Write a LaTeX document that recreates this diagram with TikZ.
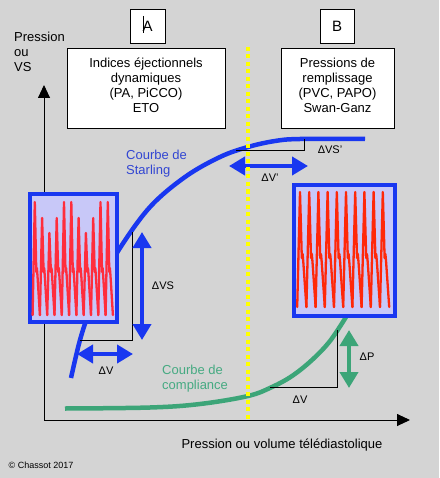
\documentclass[tikz,border=0pt]{standalone}
\usepackage{fontspec}
\setmainfont{Liberation Sans}
\usetikzlibrary{arrows.meta}
\definecolor{bg}{RGB}{212,212,212}
\definecolor{sblue}{RGB}{25,55,240}
\definecolor{cgreen}{RGB}{60,165,120}
\definecolor{tblue}{RGB}{50,70,210}
\definecolor{tgreen}{RGB}{70,170,130}
\definecolor{lav}{RGB}{200,200,248}
\definecolor{wredA}{RGB}{255,45,60}
\definecolor{wredB}{RGB}{255,40,10}
\definecolor{ylw}{RGB}{255,255,0}
\begin{document}
\begin{tikzpicture}[x=1pt,y=-1pt,
  txt/.style={font=\fontsize{13}{15}\selectfont, inner sep=0pt, align=center},
  lbl/.style={font=\fontsize{11}{13}\selectfont, inner sep=0pt},
  tbox/.style={draw=black, fill=white, line width=0.8pt, inner sep=0pt},
  wbox/.style={draw=sblue, line width=4pt, fill=lav, inner sep=0pt},
  curveS/.style={sblue, line width=4.5pt},
  curveC/.style={cgreen, line width=4.5pt},
  brk/.style={black, line width=0.8pt},
  darrow/.style={line width=4pt, {Triangle[width=18pt,length=16pt]}-{Triangle[width=18pt,length=16pt]}},
  axis/.style={black, line width=0.9pt, -{Triangle[width=12pt,length=13pt]}},
  wave/.style={line width=2.3pt, line join=round, line cap=round}]
\useasboundingbox (0,0) rectangle (439,478);
\fill[bg] (0,0) rectangle (439,478);

% axes
\coordinate (O) at (44,420);
\coordinate (Ytop) at (44,85);
\coordinate (Xend) at (410,420);
\draw[axis] (O) -- (Ytop);
\draw[axis] (O) -- (Xend);

% curves
\draw[curveS] plot[smooth, tension=0.6] coordinates {(71,378) (80,340) (90,310) (104,278) (120,248) (150,207) (185,177) (220,157) (248,147) (275,141) (300,139) (365,139)};
\draw[curveC] plot[smooth, tension=0.6] coordinates {(65,408.5) (150,407.5) (200,404) (248,396) (272,387) (292,376) (312,360) (330,341) (346,317)};

% brackets
\draw[brk] (80,340) -| (132,232);
\draw[brk] (236,150) -| (304,139);
\draw[brk] (270,387) -| (337,330);

% double arrows
\draw[darrow, sblue] (77,354) -- (133,354);
\draw[darrow, sblue] (142,232) -- (142,340);
\draw[darrow, sblue] (229,166) -- (308,166);
\draw[darrow, cgreen] (349,330) -- (349,388);

% waveform boxes
\node[wbox, minimum width=87, minimum height=128] (W1) at (73.5,258) {};
\node[wbox, minimum width=101, minimum height=131] (W2) at (344.5,250.5) {};
\foreach \i/\p in {0/202,1/218,2/233,3/218,4/202,5/202,6/218,7/233,8/218,9/202,10/202}{
  \pgfmathsetmacro\a{32.6+\i*7.3}
  \draw[wave, wredA] (\a,315) -- (\a+2.2,\p) -- (\a+3.7,272) -- (\a+4.3,268) -- (\a+4.9,276) -- (\a+7.3,315);
}
\foreach \i in {0,...,9}{
  \pgfmathsetmacro\a{297.2+\i*9.2}
  \draw[wave, wredB] (\a,307) -- (\a+2.8,192) -- (\a+4.6,258) -- (\a+5.4,254) -- (\a+6.1,262) -- (\a+9.2,307);
}

% yellow dotted line
\draw[ylw, line width=4pt, dash pattern=on 4pt off 3.5pt] (248,47) -- (248,419);

% top boxes
\node[tbox, minimum width=35, minimum height=34, font=\fontsize{15}{17}\selectfont] (A) at (147.5,26) {A};
\draw[line width=0.6pt] (143.3,16) -- (143.3,33);
\node[tbox, minimum width=34, minimum height=34, font=\fontsize{15}{17}\selectfont] (B) at (337,26) {B};
\node[tbox, minimum width=158, minimum height=80] (Abig) at (146,88) {};
\node[txt, anchor=north] (Atext) at (146,58) {Indices éjectionnels\\dynamiques\\(PA, PiCCO)\\ETO};
\node[tbox, minimum width=113, minimum height=80] (Bbig) at (337.5,88) {};
\node[txt, anchor=north] (Btext) at (337.5,58) {Pressions de\\remplissage\\(PVC, PAPO)\\Swan-Ganz};

% labels
\node[txt, anchor=north west, align=left] (ylab) at (14,32) {Pression\\ou\\VS};
\node[txt, anchor=base] (xlab) at (282,448) {Pression ou volume télédiastolique};
\node[txt, anchor=north west, align=left, text=tblue] (starl) at (126,150) {Courbe de\\Starling};
\node[txt, anchor=north west, align=left, text=tgreen] (compl) at (162,365) {Courbe de\\compliance};
\node[lbl, anchor=base] (dV1) at (106,374) {ΔV};
\node[lbl, anchor=base] (dVS) at (163,289) {ΔVS};
\node[lbl, anchor=base] (dVSp) at (330,154) {ΔVS{\char"27}};
\node[lbl, anchor=base] (dVp) at (270,182) {ΔV{\char"27}};
\node[lbl, anchor=base] (dP) at (367,360) {ΔP};
\node[lbl, anchor=base] (dV2) at (300,403) {ΔV};
\node[inner sep=0pt, anchor=base, font=\fontsize{9}{11}\selectfont] (copy) at (41,468) {© Chassot 2017};
\end{tikzpicture}
\end{document}
